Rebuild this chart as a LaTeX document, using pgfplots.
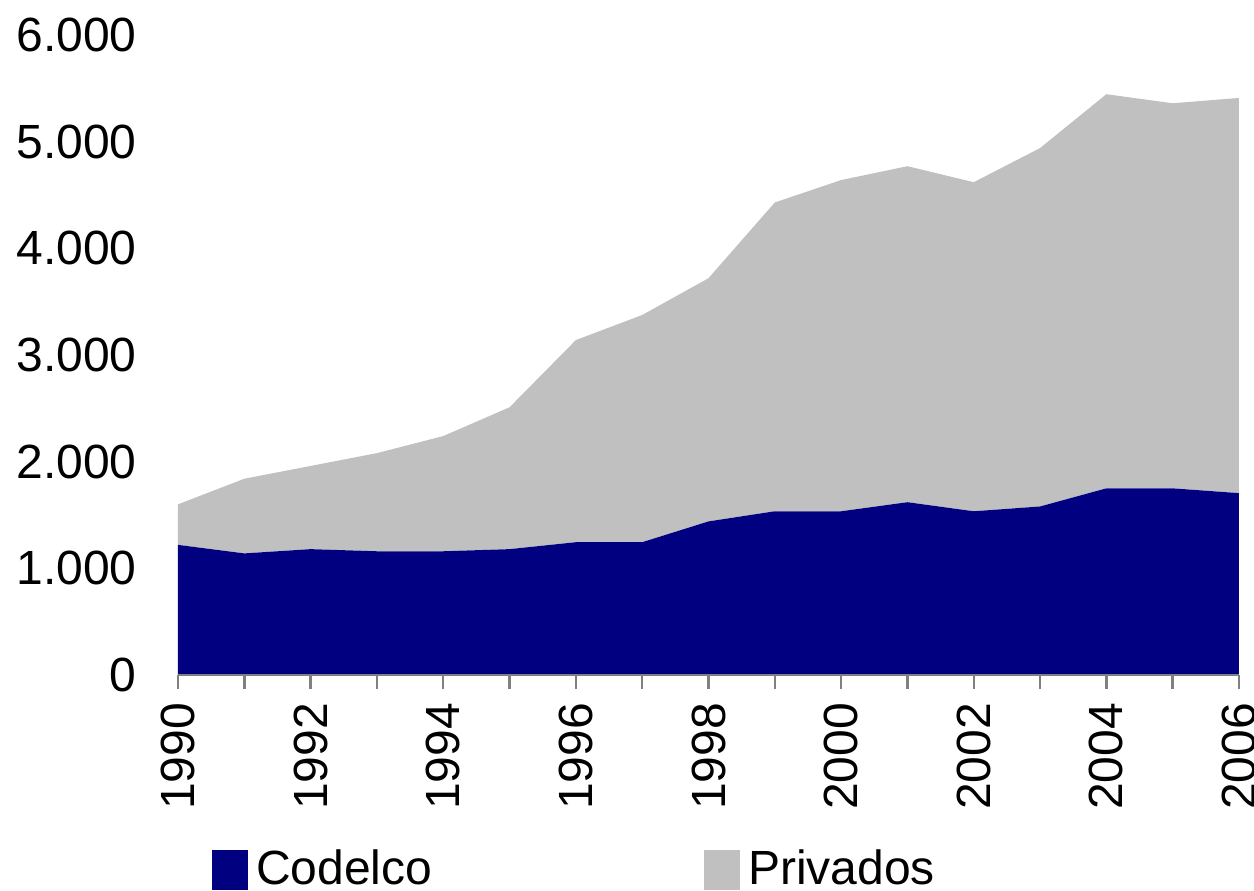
\documentclass[border=0pt]{standalone}
\usepackage{fontspec}
\setmainfont{Liberation Sans}
\usepackage{pgfplots}
\pgfplotsset{compat=1.18}
\definecolor{codelco}{RGB}{0,0,128}
\definecolor{privados}{RGB}{192,192,192}
\begin{document}
\begin{tikzpicture}
\useasboundingbox (-44.5pt,-53.75pt) rectangle (269pt,168.75pt);
\begin{axis}[
  at={(0,0)}, anchor=south west,
  scale only axis, width=265.25pt, height=160pt,
  xmin=1990, xmax=2006, ymin=0, ymax=6000,
  stack plots=y, area style,
  axis lines*=left,
  x axis line style={draw=gray, line width=0.6pt},
  y axis line style={draw=none},
  xtick={1990,1992,...,2006},
  minor xtick={1991,1993,...,2005},
  tick align=outside,
  major tick length=3.5pt, minor tick length=3.5pt,
  xtick style={draw=gray, line width=0.6pt},
  ytick={0,1000,...,6000},
  ytick style={draw=none},
  /pgf/number format/assume math mode=true,
  /pgf/number format/1000 sep={.},
  xticklabel={\pgfmathprintnumber[1000 sep={}]{\tick}},
  xticklabel style={rotate=90, anchor=east},
  yticklabel style={xshift=-3.3pt},
  tick label style={font=\fontsize{12}{14}\selectfont},
  legend columns=2,
  legend style={at={(axis description cs:0.02,-0.305)}, anchor=west, draw=none, fill=none,
    font=\fontsize{12}{14}\selectfont,
    /tikz/every even column/.append style={column sep=66pt}},
  legend image code/.code={\path[#1,draw=none] (0pt,-5pt) rectangle (9pt,5pt);},
]
\addplot[fill=codelco, draw=none] coordinates {
 (1990,1220) (1991,1140) (1992,1180) (1993,1160) (1994,1160) (1995,1180)
 (1996,1245) (1997,1245) (1998,1440) (1999,1535) (2000,1535) (2001,1620)
 (2002,1535) (2003,1580) (2004,1750) (2005,1750) (2006,1705)} \closedcycle;
\addlegendentry{Codelco}
\addplot[fill=privados, draw=none] coordinates {
 (1990,380) (1991,700) (1992,780) (1993,920) (1994,1080) (1995,1330)
 (1996,1895) (1997,2130) (1998,2280) (1999,2895) (2000,3105) (2001,3150)
 (2002,3085) (2003,3360) (2004,3695) (2005,3610) (2006,3705)} \closedcycle;
\addlegendentry{Privados}
\end{axis}
\end{tikzpicture}
\end{document}
